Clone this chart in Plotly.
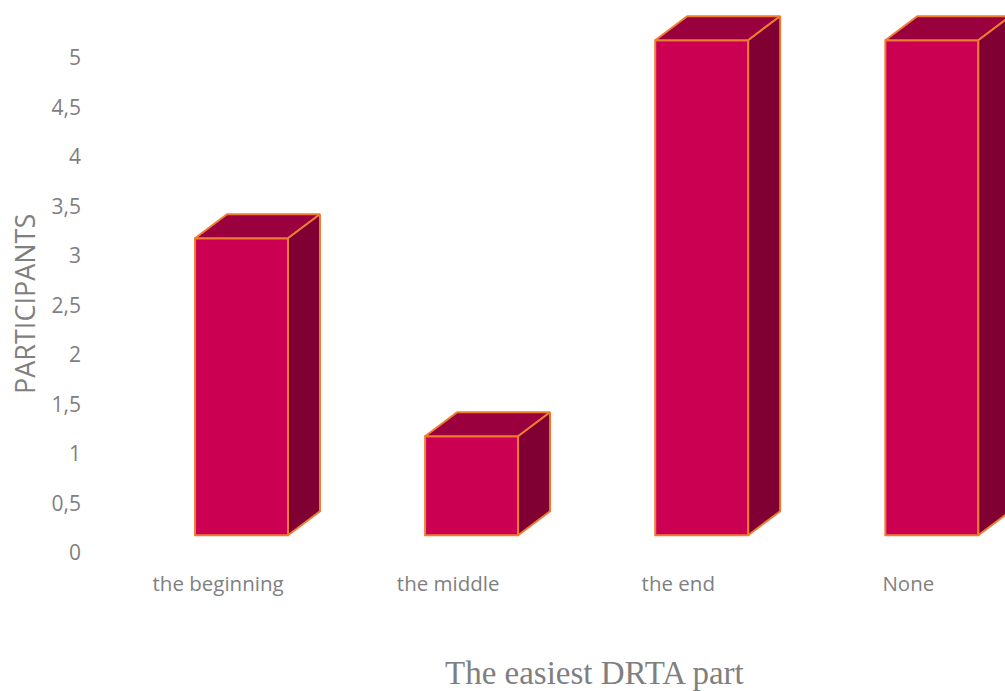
import plotly.graph_objects as go

# Survey answers: which part of the DRTA lesson was easiest
categories = ["the beginning", "the middle", "the end", "None"]
participants = [3, 1, 5, 5]

y_tick_values = [0, 0.5, 1, 1.5, 2, 2.5, 3, 3.5, 4, 4.5, 5]
y_tick_labels = ["0", "0,5", "1", "1,5", "2", "2,5", "3", "3,5", "4", "4,5", "5"]

# 3D column geometry (in axis units)
FLOOR = 0.18       # front face sits slightly above zero because of the floor depth
BAR_W = 0.404      # front face width
BAR_SHIFT = 0.102  # front face centre offset from the category position
DEPTH_X = 0.139    # receding depth, horizontal
DEPTH_Y = 0.242    # receding depth, vertical

FRONT = "#CC0052"
TOP = "#99003D"
SIDE = "#800033"
EDGE = "#ED7D31"
TEXT = "#7F7F7F"

MARGIN_L, MARGIN_B = 103, 138
WIDTH, HEIGHT = 1005, 691

fig = go.Figure()

xs = list(range(len(categories)))

# front faces
fig.add_trace(go.Bar(
    x=[x + BAR_SHIFT for x in xs],
    y=participants,
    base=[FLOOR] * len(participants),
    width=BAR_W,
    marker=dict(color=FRONT, line=dict(color=EDGE, width=2)),
    hoverinfo="skip",
    showlegend=False,
))

# top and side faces
for x, v in zip(xs, participants):
    left = x + BAR_SHIFT - BAR_W / 2
    right = x + BAR_SHIFT + BAR_W / 2
    top = FLOOR + v
    fig.add_trace(go.Scatter(
        x=[left, left + DEPTH_X, right + DEPTH_X, right, left],
        y=[top, top + DEPTH_Y, top + DEPTH_Y, top, top],
        mode="lines", fill="toself", fillcolor=TOP,
        line=dict(color=EDGE, width=2),
        hoverinfo="skip", showlegend=False,
    ))
    fig.add_trace(go.Scatter(
        x=[right, right + DEPTH_X, right + DEPTH_X, right, right],
        y=[top, top + DEPTH_Y, FLOOR + DEPTH_Y, FLOOR, top],
        mode="lines", fill="toself", fillcolor=SIDE,
        line=dict(color=EDGE, width=2),
        hoverinfo="skip", showlegend=False,
    ))

plot_w = WIDTH - MARGIN_L
plot_h = HEIGHT - MARGIN_B

fig.update_layout(
    width=WIDTH, height=HEIGHT,
    margin=dict(l=MARGIN_L, r=0, t=0, b=MARGIN_B),
    paper_bgcolor="white", plot_bgcolor="white",
    font=dict(family="Open Sans", color=TEXT),
    xaxis=dict(
        range=[-0.5, 3.42],
        tickvals=xs, ticktext=categories,
        showgrid=False, zeroline=False, showline=False,
        ticks="", ticklabelstandoff=16,
        tickfont=dict(size=20.5, color=TEXT, family="Open Sans"),
        fixedrange=True,
    ),
    yaxis=dict(
        range=[0, 5.586],
        tickvals=y_tick_values, ticktext=y_tick_labels,
        showgrid=False, zeroline=False, showline=False,
        ticks="", ticklabelstandoff=21,
        tickfont=dict(size=21, color=TEXT, family="Open Sans"),
        fixedrange=True,
    ),
    annotations=[
        dict(text="PARTICIPANTS", textangle=-90,
             x=(24 - MARGIN_L) / plot_w, xref="paper", xanchor="center",
             y=1 - 304 / plot_h, yref="paper", yanchor="middle",
             showarrow=False,
             font=dict(size=27, color=TEXT, family="Open Sans")),
        dict(text="The easiest DRTA part",
             x=(594 - MARGIN_L) / plot_w, xref="paper", xanchor="center",
             y=-(673 - plot_h) / plot_h, yref="paper", yanchor="middle",
             showarrow=False,
             font=dict(size=33, color=TEXT, family="Liberation Serif")),
    ],
)

fig.write_html("out.html")
